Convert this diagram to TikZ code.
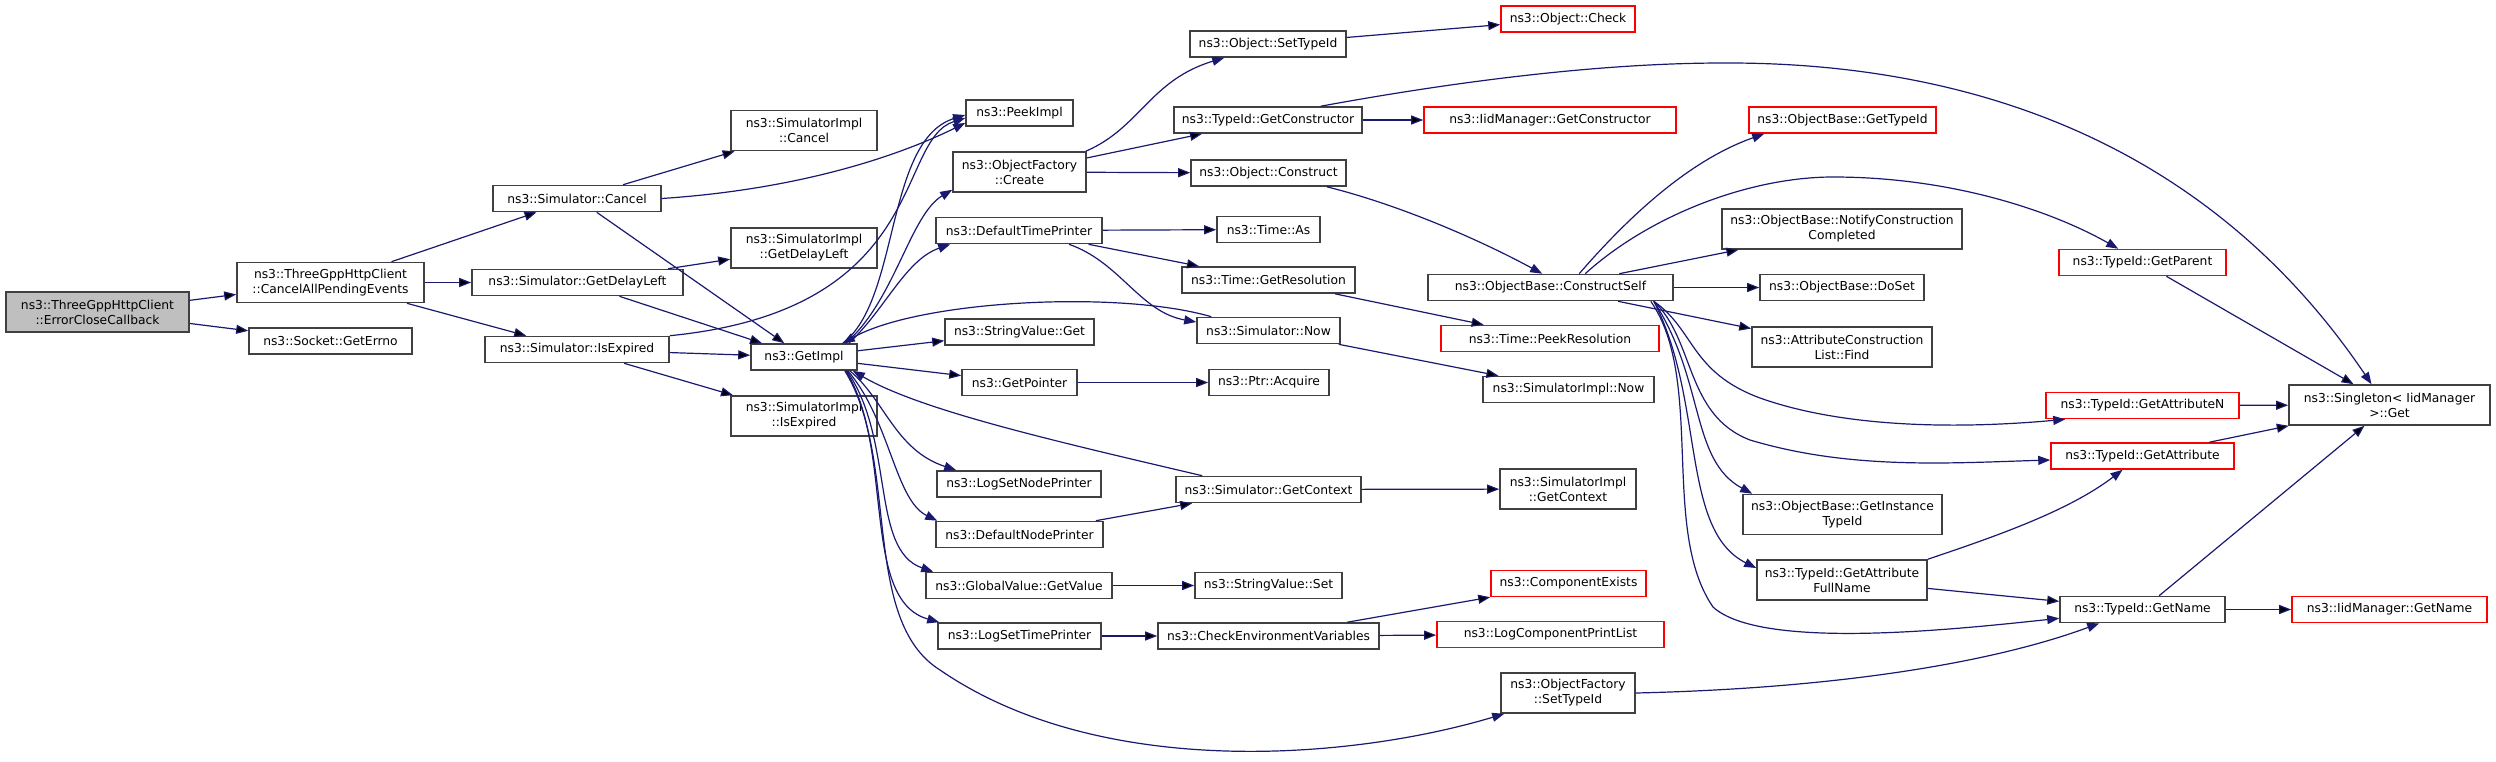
\documentclass[tikz,border=0pt]{standalone}
\usepackage{fontspec}
\setmainfont{DejaVu Sans}
\usetikzlibrary{arrows.meta,calc}
\definecolor{edgeblue}{RGB}{25,25,112}
\definecolor{boxgray}{RGB}{64,64,64}
\definecolor{rootgray}{RGB}{191,191,191}
\begin{document}
\begin{tikzpicture}[x=1pt,y=-1pt,>={Triangle[length=12pt,width=9pt]},
  call/.style={->,draw=edgeblue,line width=1.2pt}]

% Define block styles
\tikzstyle{fn} = [rectangle, draw=boxgray, line width=1.6pt, fill=white,
    minimum height=26, inner sep=0pt, align=center,
    font=\fontsize{12.3}{15}\selectfont]
\tikzstyle{fn2} = [fn, minimum height=40]
\tikzstyle{missing} = [fn, draw=red]
\tikzstyle{root} = [fn2, fill=rootgray]

\useasboundingbox (0,0) rectangle (2496,761);

\node[root, minimum width=183]	(close)	at (97.5,312)	{ns3::ThreeGppHttpClient\\::ErrorCloseCallback};
\node[fn2, minimum width=187]	(cape)	at (330.5,282.5)	{ns3::ThreeGppHttpClient\\::CancelAllPendingEvents};
\node[fn, minimum width=163]	(errno)	at (330.5,341)	{ns3::Socket::GetErrno};

\node[fn, minimum width=168]	(scancel)	at (577,198.5)	{ns3::Simulator::Cancel};
\node[fn, minimum width=211]	(sdelay)	at (577.5,282.5)	{ns3::Simulator::GetDelayLeft};
\node[fn, minimum width=184]	(sexp)	at (577,349.5)	{ns3::Simulator::IsExpired};

\node[fn2, minimum width=146]	(sicancel)	at (804,130.5)	{ns3::SimulatorImpl\\::Cancel};
\node[fn2, minimum width=146]	(sidelay)	at (804,248)	{ns3::SimulatorImpl\\::GetDelayLeft};
\node[fn, minimum width=106]	(getimpl)	at (804,357)	{ns3::GetImpl};
\node[fn2, minimum width=146]	(siexp)	at (804,416)	{ns3::SimulatorImpl\\::IsExpired};

\node[fn, minimum width=107]	(peekimpl)	at (1019.5,113)	{ns3::PeekImpl};
\node[fn2, minimum width=133]	(ofcreate)	at (1019.5,172)	{ns3::ObjectFactory\\::Create};
\node[fn, minimum width=166]	(dtp)	at (1019,230.5)	{ns3::DefaultTimePrinter};
\node[fn, minimum width=149]	(svget)	at (1019.5,332)	{ns3::StringValue::Get};
\node[fn, minimum width=115]	(getptr)	at (1019.5,382.5)	{ns3::GetPointer};
\node[fn, minimum width=164]	(lsnp)	at (1019,484)	{ns3::LogSetNodePrinter};
\node[fn, minimum width=167]	(dnp)	at (1019.5,534.5)	{ns3::DefaultNodePrinter};
\node[fn, minimum width=186]	(gvget)	at (1019,585.5)	{ns3::GlobalValue::GetValue};
\node[fn, minimum width=163]	(lstp)	at (1019.5,636)	{ns3::LogSetTimePrinter};

\node[fn, minimum width=156]	(osettid)	at (1268,44)	{ns3::Object::SetTypeId};
\node[fn, minimum width=188]	(tgetctor)	at (1268,120)	{ns3::TypeId::GetConstructor};
\node[fn, minimum width=155]	(oconstruct)	at (1268.5,173)	{ns3::Object::Construct};
\node[fn, minimum width=103]	(timeas)	at (1268.5,229.5)	{ns3::Time::As};
\node[fn, minimum width=173]	(getres)	at (1268.5,280)	{ns3::Time::GetResolution};
\node[fn, minimum width=143]	(snow)	at (1268.5,330.5)	{ns3::Simulator::Now};
\node[fn, minimum width=120]	(acquire)	at (1269,382.5)	{ns3::Ptr::Acquire};
\node[fn, minimum width=185]	(sgetctx)	at (1268.5,489.5)	{ns3::Simulator::GetContext};
\node[fn, minimum width=147]	(svset)	at (1268.5,585.5)	{ns3::StringValue::Set};
\node[fn, minimum width=221]	(cev)	at (1268.5,636)	{ns3::CheckEnvironmentVariables};

\node[missing, minimum width=134]	(ocheck)	at (1568,19)	{ns3::Object::Check};
\node[missing, minimum width=252]	(iidctor)	at (1550,120)	{ns3::IidManager::GetConstructor};
\node[fn, minimum width=245]	(cself)	at (1550.5,287.5)	{ns3::ObjectBase::ConstructSelf};
\node[missing, minimum width=218]	(peekres)	at (1550,338.5)	{ns3::Time::PeekResolution};
\node[fn, minimum width=171]	(sinow)	at (1568.5,389.5)	{ns3::SimulatorImpl::Now};
\node[fn2, minimum width=136]	(sigetctx)	at (1568,489)	{ns3::SimulatorImpl\\::GetContext};
\node[missing, minimum width=155]	(compex)	at (1568.5,583.5)	{ns3::ComponentExists};
\node[missing, minimum width=227]	(lcpl)	at (1550.5,634.5)	{ns3::LogComponentPrintList};
\node[fn2, minimum width=134]	(ofsettid)	at (1568,693)	{ns3::ObjectFactory\\::SetTypeId};

\node[missing, minimum width=187]	(obgettid)	at (1842.5,120)	{ns3::ObjectBase::GetTypeId};
\node[fn2, minimum width=240]	(notify)	at (1842,229)	{ns3::ObjectBase::NotifyConstruction\\Completed};
\node[fn, minimum width=164]	(doset)	at (1842,287.5)	{ns3::ObjectBase::DoSet};
\node[fn2, minimum width=180]	(acfind)	at (1842,347)	{ns3::AttributeConstruction\\List::Find};
\node[fn2, minimum width=199]	(getinst)	at (1842.5,514.5)	{ns3::ObjectBase::GetInstance\\TypeId};
\node[fn2, minimum width=170]	(getafn)	at (1842,580)	{ns3::TypeId::GetAttribute\\FullName};

\node[missing, minimum width=167]	(getparent)	at (2142.5,262.5)	{ns3::TypeId::GetParent};
\node[missing, minimum width=193]	(getattrn)	at (2142.5,405.5)	{ns3::TypeId::GetAttributeN};
\node[missing, minimum width=183]	(getattr)	at (2142.5,456)	{ns3::TypeId::GetAttribute};
\node[fn, minimum width=165]	(tgetname)	at (2142.5,609.5)	{ns3::TypeId::GetName};
\node[fn2, minimum width=201]	(singleton)	at (2389.5,405)	{ns3::Singleton< IidManager\\>::Get};
\node[missing, minimum width=195]	(iidname)	at (2389.5,609.5)	{ns3::IidManager::GetName};

\path[call]
	(close)	edge	(cape)
		edge	(errno)
	(cape)	edge	(scancel)
		edge	(sdelay)
		edge	(sexp)
	(scancel)	edge	(sicancel)
		edge	(getimpl)
	(sdelay)	edge	(sidelay)
		edge	(getimpl)
	(sexp)	edge	(getimpl)
		edge	(siexp)
	(getimpl)	edge	(svget)
		edge	(getptr)
	(ofcreate)	edge	(tgetctor)
		edge	(oconstruct)
	(osettid)	edge	(ocheck)
	(tgetctor)	edge	(iidctor)
	(dtp)	edge	(timeas)
		edge	(getres)
	(getres)	edge	(peekres)
	(snow)	edge	(sinow)
	(getptr)	edge	(acquire)
	(sgetctx)	edge	(sigetctx)
	(dnp)	edge	(sgetctx)
	(gvget)	edge	(svset)
	(lstp)	edge	(cev)
	(cev)	edge	(compex)
		edge	(lcpl)
	(cself)	edge	(notify)
		edge	(doset)
		edge	(acfind)
	(getparent)	edge	(singleton)
	(getattrn)	edge	(singleton)
	(getattr)	edge	(singleton)
	(getafn)	edge	(tgetname)
	(tgetname)	edge	(singleton)
		edge	(iidname);

% curved calls
\draw[call] (scancel.east) .. controls (790,190) and (890,160) .. ($(peekimpl.west)+(0,10)$);
\draw[call] (sexp.north east) .. controls (930,310) and (895,140) .. ($(peekimpl.west)+(0,5)$);
\draw[call] ($(getimpl.north east)+(-15,0)$) .. controls (900,300) and (885,140) .. ($(peekimpl.west)+(0,2)$);
\draw[call] ($(getimpl.north east)+(-12,0)$) .. controls (895,300) and (910,215) .. ($(ofcreate.south west)+(0,-3)$);
\draw[call] ($(getimpl.north east)+(-9,0)$) .. controls (885,310) and (905,260) .. ($(dtp.south west)+(15,0)$);
\draw[call] ($(snow.north west)+(15,0)$) .. controls (1120,290) and (920,300) .. ($(getimpl.north east)+(-15,0)$);
\draw[call] ($(sgetctx.north west)+(27,0)$) .. controls (1050,440) and (920,410) .. ($(getimpl.south east)+(-5,0)$);
\draw[call] ($(getimpl.south east)+(-8,0)$) .. controls (885,400) and (895,450) .. ($(lsnp.north west)+(20,0)$);
\draw[call] ($(getimpl.south east)+(-10,0)$) .. controls (890,420) and (895,500) .. ($(dnp.north west)+(2,0)$);
\draw[call] ($(getimpl.south east)+(-11,0)$) .. controls (895,440) and (870,550) .. ($(gvget.north west)+(8,0)$);
\draw[call] ($(getimpl.south east)+(-12,0)$) .. controls (895,450) and (860,600) .. ($(lstp.north west)+(2,0)$);
\draw[call] ($(getimpl.south east)+(-13,0)$) .. controls (900,460) and (860,620) .. (940,670)
	.. controls (1100,780) and (1350,760) .. ($(ofsettid.south west)+(4,0)$);
\draw[call] ($(dtp.south)+(50,0)$) .. controls (1120,262) and (1140,312) .. ($(snow.west)+(0,-8.5)$);
\draw[call] ($(ofcreate.north east)+(-1,0)$) .. controls (1140,128) and (1150,80) .. ($(osettid.south west)+(35,0)$);
\draw[call] ($(tgetctor.north east)+(-42,0)$) .. controls (1420,88) and (1580,63) .. (1723,63)
	.. controls (1950,62) and (2200,130) .. ($(singleton.north)+(-18,0)$);
\draw[call] ($(oconstruct.south east)+(-20,0)$) .. controls (1400,205) and (1480,240) .. ($(cself.north west)+(115,0)$);
\draw[call] (ofsettid.east) .. controls (1850,688) and (2000,660) .. ($(tgetname.south west)+(40,0)$);
\draw[call] ($(cself.north west)+(152,0)$) .. controls (1630,215) and (1690,160) .. ($(obgettid.south west)+(16,0)$);
\draw[call] ($(cself.north west)+(158,0)$) .. controls (1650,215) and (1750,177) .. (1833,177)
	.. controls (1950,177) and (2050,210) .. ($(getparent.north west)+(60,0)$);
\draw[call] ($(cself.south east)+(-20,0)$) .. controls (1695,330) and (1690,372) .. (1760,398)
	.. controls (1850,430) and (1970,428) .. ($(getattrn.south west)+(20,0)$);
\draw[call] ($(cself.south east)+(-20,0)$) .. controls (1695,340) and (1685,415) .. (1750,440)
	.. controls (1850,470) and (1950,463) .. ($(getattr.west)+(0,4)$);
\draw[call] ($(cself.south east)+(-20,0)$) .. controls (1705,380) and (1690,460) .. ($(getinst.north west)+(10,0)$);
\draw[call] ($(cself.south east)+(-20,0)$) .. controls (1705,400) and (1680,530) .. ($(getafn.west)+(0,-12)$);
\draw[call] ($(cself.south east)+(-23,0)$) .. controls (1705,380) and (1660,530) .. (1713,607)
	.. controls (1760,650) and (1950,630) .. ($(tgetname.south west)+(0,-5)$);
\draw[call] (getafn.north east) .. controls (2000,535) and (2070,510) .. ($(getattr.south)+(-20,0)$);

\end{tikzpicture}
\end{document}
